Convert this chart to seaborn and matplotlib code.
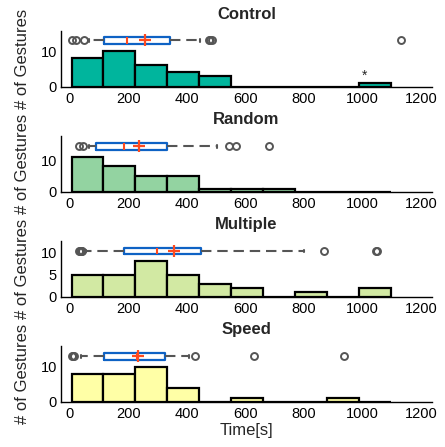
import numpy as np
import matplotlib
matplotlib.use("Agg")
import matplotlib.pyplot as plt
import seaborn as sns

sns.set_style("white")
plt.rcParams['font.family'] = ['Liberation Sans', 'DejaVu Sans']

# ---------------- data ----------------
conditions = ["Control", "Random", "Multiple", "Speed"]
bin_edges = [6, 115, 224, 333, 442, 551, 660, 769, 878, 987, 1096]

counts_control = [8, 10, 6, 4, 3, 0, 0, 0, 0, 1]
counts_random = [11, 8, 5, 5, 1, 1, 1, 0, 0, 0]
counts_multiple = [5, 5, 8, 5, 3, 2, 0, 1, 0, 2]
counts_speed = [8, 8, 10, 4, 0, 1, 0, 0, 1, 0]

# box-plot summaries (time in seconds)
q1_values = [116, 90, 184, 118]
median_values = [194, 185, 298, 229]
mean_values = [258, 236, 357, 234]
q3_values = [341, 333, 449, 325]
whisker_low = [65, 66, 55, 40]
whisker_high = [444, 503, 801, 406]
fliers_control = [8, 22, 50, 476, 480, 486, 1131]
fliers_random = [30, 44, 545, 567, 680]
fliers_multiple = [30, 34, 37, 40, 43, 867, 1045, 1049]
fliers_speed = [6, 10, 13, 428, 629, 937]

y_limits_top = [15.6, 17.6, 12.6, 15.9]
box_levels = [13.0, 14.4, 10.35, 13.0]
y_ticks = [[0, 10], [0, 10], [0, 5, 10], [0, 10]]
x_ticks = [0, 200, 400, 600, 800, 1000, 1200]

bar_colors = ["#00B59D", "#93D3A1", "#D2E9A3", "#FFFFA6"]
box_blue = "#0E62C4"
red = "#FF4A1F"
gray = "#555555"

all_counts = [counts_control, counts_random, counts_multiple, counts_speed]
all_fliers = [fliers_control, fliers_random, fliers_multiple, fliers_speed]

# ---------------- figure ----------------
fig = plt.figure(figsize=(4.45, 4.47), dpi=100)
bottoms = [0.806, 0.571, 0.336, 0.1013]
left, width, height = 0.137, 0.834, 0.1246

centers = [(bin_edges[i] + bin_edges[i + 1]) / 2 for i in range(len(bin_edges) - 1)]

for i, name in enumerate(conditions):
    ax = fig.add_axes([left, bottoms[i], width, height])
    sns.histplot(x=centers, weights=all_counts[i], bins=bin_edges, ax=ax,
                 color=bar_colors[i], alpha=1, edgecolor="black", linewidth=1.6)

    stats = dict(med=median_values[i], q1=q1_values[i], q3=q3_values[i],
                 whislo=whisker_low[i], whishi=whisker_high[i],
                 fliers=all_fliers[i], mean=mean_values[i])
    ytop = y_limits_top[i]
    ax.bxp([stats], positions=[box_levels[i]], widths=[0.12 * ytop],
           orientation="horizontal", showmeans=True, showcaps=True,
           capwidths=[0.05 * ytop], manage_ticks=False,
           boxprops=dict(color=box_blue, linewidth=1.6),
           medianprops=dict(color=red, linewidth=1.5),
           meanprops=dict(marker="+", markeredgecolor=red, markersize=9,
                          markeredgewidth=1.6),
           whiskerprops=dict(color=gray, linewidth=1.5, linestyle=(0, (5, 2.8))),
           capprops=dict(color=gray, linewidth=1.5),
           flierprops=dict(marker="o", markerfacecolor="none",
                           markeredgecolor=gray, markersize=5,
                           markeredgewidth=1.4))

    if name == "Control":
        ax.text(1006, 1.2, "*", ha="center", va="bottom", fontsize=10)

    ax.set_xlim(-30, 1237)
    ax.set_ylim(0, ytop)
    ax.set_xticks(x_ticks)
    ax.set_yticks(y_ticks[i])
    ax.tick_params(direction="in", length=3, width=1, labelsize=10.5,
                   colors="black", pad=3)
    ax.tick_params(axis="x", pad=4)
    for s in ["top", "right"]:
        ax.spines[s].set_visible(False)
    for s in ["left", "bottom"]:
        ax.spines[s].set_color("black")
        ax.spines[s].set_linewidth(1.0)
    ax.set_facecolor("white")
    ax.set_title(name, fontsize=12, fontweight="bold", pad=9)
    ax.set_ylabel("# of Gestures", fontsize=12)
    ax.yaxis.set_label_coords(-0.083, 0.5)
    if i == 3:
        ax.set_xlabel("Time[s]", fontsize=12, labelpad=1)
    else:
        ax.set_xlabel("")

fig.savefig("out.png", dpi=100, facecolor="white")
